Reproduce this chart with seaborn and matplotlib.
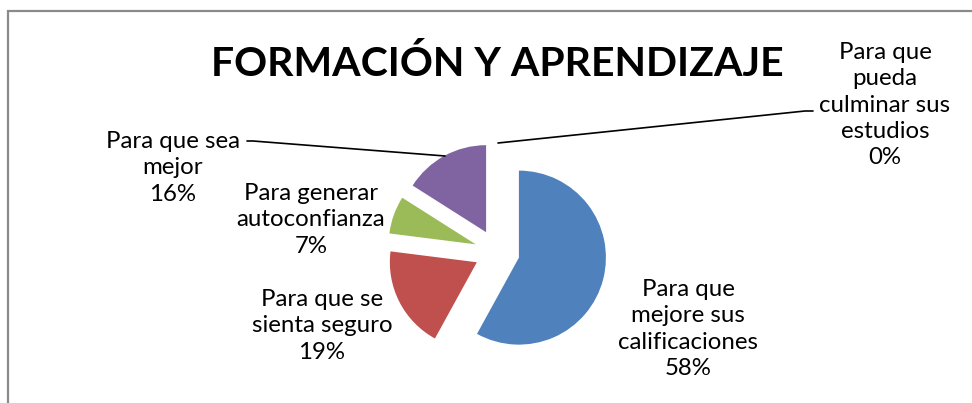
import matplotlib
matplotlib.use("Agg")
import matplotlib.pyplot as plt
import seaborn as sns
from matplotlib.patches import Rectangle

# ---- data ----
categories = ["Para que\nmejore sus\ncalificaciones",
              "Para que se\nsienta seguro",
              "Para generar\nautoconfianza",
              "Para que sea\nmejor",
              "Para que\npueda\nculminar sus\nestudios"]
values = [58, 19, 7, 16, 0]
title = "FORMACIÓN Y APRENDIZAJE"

sns.set_theme(style="white")
plt.rcParams['font.family'] = ['Lato', 'DejaVu Sans']

colors = sns.color_palette(["#4F81BD", "#C0504D", "#9BBB59", "#8064A2", "#4BACC6"])

W, H = 972, 403
fig = plt.figure(figsize=(W / 100, H / 100), dpi=100)
ax = fig.add_axes([0, 0, 1, 1])

def Y(ypx):
    return H - ypx

cx, cy, R = 497, Y(252), 87
ax.pie(values, colors=colors, startangle=90, counterclock=False,
       center=(cx, cy), radius=R, explode=[0.26 * R] * len(values),
       wedgeprops=dict(linewidth=0), frame=True)
ax.set_xlim(0, W)
ax.set_ylim(0, H)
ax.axis("off")

# border
ax.add_patch(Rectangle((8, Y(403 + 20)), 1000, 403 + 20 - 11, fill=False,
                       edgecolor="#8a8a8a", linewidth=1.6, clip_on=False))

# title
ax.text(497, Y(64), title, ha="center", va="center", fontsize=29.5,
        fontweight="bold", color="black")

fs = 17.3
label_pos = [(688, 329), (322, 326), (311, 220), (173, 168), (885, 105)]
for cat, v, (lx, ly) in zip(categories, values, label_pos):
    ax.text(lx, Y(ly), f"{cat}\n{v}%", ha="center", va="center",
            fontsize=fs, linespacing=1.32, color="black")

# leader lines
ax.plot([498, 805, 813], [Y(143), Y(111), Y(111)], color="black", lw=1.2)
ax.plot([445, 253, 247], [Y(156), Y(141), Y(141)], color="black", lw=1.2)

fig.savefig("out.png", dpi=100)
